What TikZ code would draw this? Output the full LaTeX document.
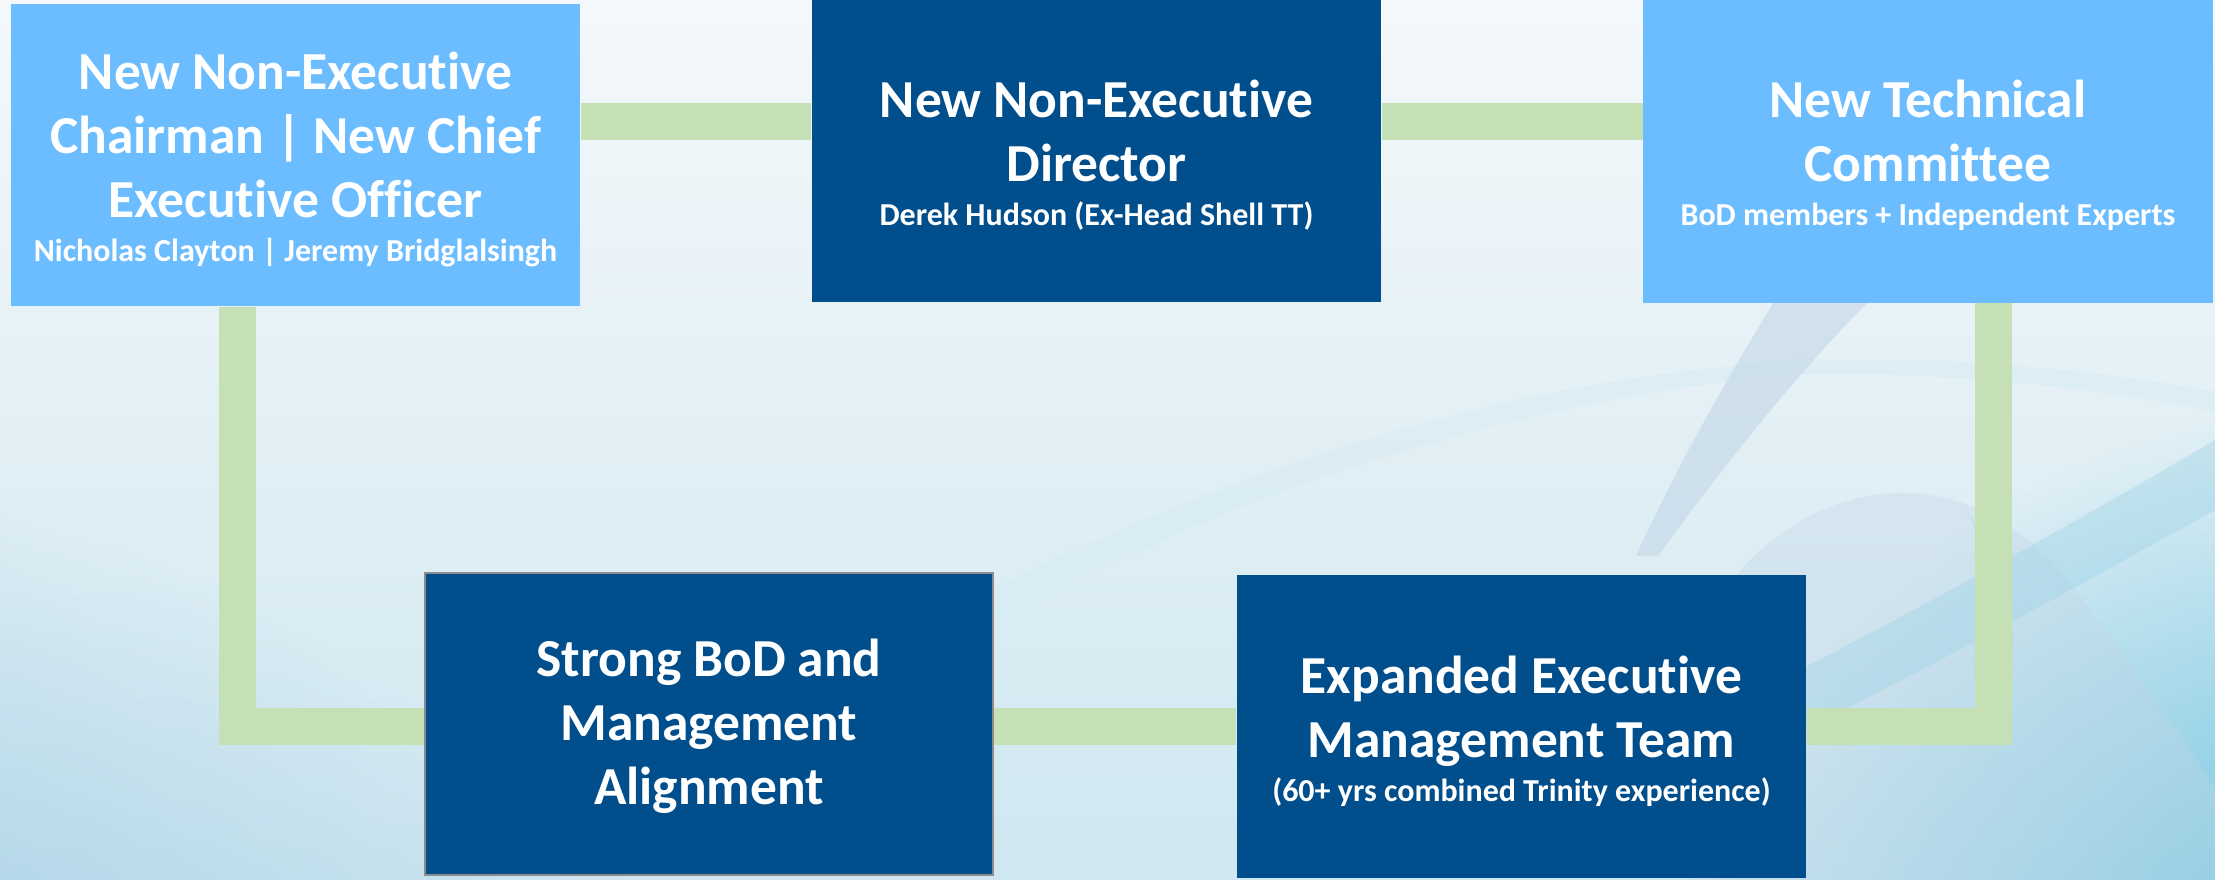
\documentclass[tikz,border=0pt]{standalone}
\usepackage{fontspec}
\setmainfont{Carlito}[Ligatures={NoCommon,NoContextual}]
\usetikzlibrary{fadings}

\definecolor{skyblue}{HTML}{6CBDFF}
\definecolor{navy}{HTML}{004F8C}
\definecolor{linkgreen}{HTML}{C5E0B4}
\definecolor{bgtop}{HTML}{F4F8FA}
\definecolor{bgbot}{HTML}{CFE7F1}
\definecolor{glowleft}{HTML}{7DB8D8}
\definecolor{glowright}{HTML}{55BCDB}
\definecolor{swoosh}{HTML}{C2D6E6}
\definecolor{band}{HTML}{9ED3E6}
\definecolor{faintband}{HTML}{D8ECF3}

\tikzfading[name=radialfade, inner color=transparent!0, outer color=transparent!100]

\newcommand\titlesize{\fontsize{15.2}{18.2}\selectfont}
\newcommand\subline[1]{{\fontsize{9.1}{10.5}\selectfont #1}}

\pgfdeclarelayer{back}
\pgfdeclarelayer{links}
\pgfsetlayers{back,links,main}

\begin{document}
\begin{tikzpicture}[x=0.01cm, y=-0.01cm,
  box/.style={rectangle, inner sep=0pt, minimum width=5.69cm, minimum height=3.02cm},
  lightbox/.style={box, fill=skyblue},
  darkbox/.style={box, fill=navy},
  boxtext/.style={inner sep=0pt, text=white, align=center, font=\bfseries\titlesize},
  link/.style={draw=linkgreen, line width=0.37cm, line join=miter}]

\useasboundingbox (0,0) rectangle (2215,880);

% boxes
\node[lightbox] (chair) at (295.5,155) {};
\node[darkbox] (ned) at (1096.5,151) {};
\node[lightbox] (tech) at (1928,151.5) {};
\node[darkbox, draw=gray!90, line width=0.02cm, minimum width=5.68cm] (align) at (709,724) {};
\node[darkbox] (exec) at (1521.5,726.5) {};

% box captions
\node[boxtext] (chair-text) at ([yshift=-1.2pt]chair.center)
  {New Non-Executive\\Chairman | New Chief\\Executive Officer\\[-5.7pt]\subline{Nicholas Clayton | Jeremy Bridglalsingh}};
\node[boxtext] (ned-text) at ([yshift=-1.2pt]ned.center)
  {New Non-Executive\\Director\\[-5.7pt]\subline{Derek Hudson (Ex-Head Shell TT)}};
\node[boxtext] (tech-text) at ([yshift=-1.2pt]tech.center)
  {New Technical\\Committee\\[-5.7pt]\subline{BoD members + Independent Experts}};
\node[boxtext] (align-text) at ([yshift=-0.6pt]align.center)
  {Strong BoD and\\Management\\Alignment};
\node[boxtext] (exec-text) at ([yshift=-1.3pt]exec.center)
  {Expanded Executive\\Management Team\\[-5.7pt]\subline{(60+ yrs combined Trinity experience)}};

% connector routing points
\coordinate (leftrun) at (237.5,726.5);
\coordinate (rightrun) at (1993.5,726.5);
\coordinate (toprow) at (0,121.5);

\begin{pgfonlayer}{links}
  \draw[link] (chair.east |- toprow) -- (ned.west |- toprow);
  \draw[link] (ned.east |- toprow) -- (tech.west |- toprow);
  \draw[link] (chair.south -| leftrun) -- (leftrun) -- (align.west |- leftrun);
  \draw[link] (align.east |- leftrun) -- (exec.west |- leftrun);
  \draw[link] (exec.east |- rightrun) -- (rightrun) -- (tech.south -| rightrun);
\end{pgfonlayer}

% background wash and swooshes
\begin{pgfonlayer}{back}
  \fill[top color=bgtop, bottom color=bgbot] (0,0) rectangle (2215,880);
  \fill[glowleft, path fading=radialfade, opacity=0.9] (-700,1300) ellipse (1500 and 900);
  \fill[glowright, path fading=radialfade, opacity=0.9] (2400,1000) ellipse (700 and 600);
  % faint arc band
  \fill[faintband, opacity=0.6]
    (880,650) .. controls (1200,470) and (1500,380) .. (1800,360)
    .. controls (1950,355) and (2100,370) .. (2215,392) -- (2215,412)
    .. controls (2100,388) and (1950,372) .. (1800,374)
    .. controls (1500,400) and (1200,500) .. (930,660) -- cycle;
  % large sphere
  \fill[swoosh, opacity=0.35]
    (1690,660) .. controls (1740,500) and (1950,410) .. (2083,600)
    .. controls (2150,690) and (2200,760) .. (2215,790) -- (2215,880) -- (1690,880) -- cycle;
  % diagonal band
  \fill[band, opacity=0.4]
    (1760,690) .. controls (1900,620) and (2080,520) .. (2215,440) -- (2215,510)
    .. controls (2080,585) and (1900,685) .. (1760,750) -- cycle;
  % blade
  \fill[swoosh, opacity=0.6]
    (1636,556) -- (1658,556) .. controls (1720,470) and (1800,370) .. (1870,300)
    -- (1775,300) .. controls (1720,390) and (1670,480) .. cycle;
  % lower curved blade
  \fill[swoosh, opacity=0.45]
    (1965,510) .. controls (2010,560) and (2030,660) .. (2000,735)
    .. controls (2015,650) and (2000,570) .. (1965,510) -- cycle;
\end{pgfonlayer}
\end{tikzpicture}
\end{document}
